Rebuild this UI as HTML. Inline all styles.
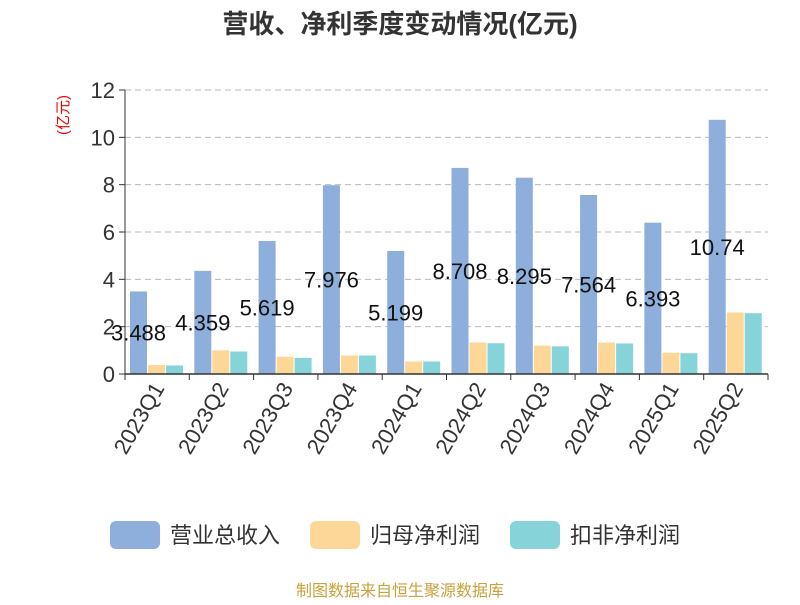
<!DOCTYPE html>
<html><head><meta charset="utf-8"><style>
body{margin:0;background:#fff;}
svg text{font-family:"Liberation Sans","Noto Sans CJK SC",sans-serif;}
</style></head><body>
<svg width="800" height="600">
<text x="400" y="33" text-anchor="middle" font-size="26" font-weight="bold" fill="#333">营收、净利季度变动情况(亿元)</text>
<text transform="translate(68,115) rotate(-90)" text-anchor="middle" font-size="15" fill="#e00">(亿元)</text>
<g id="grid"></g><g id="bars"></g><g id="labels"></g><g id="xaxis"></g>
<g font-size="22" fill="#333">
<rect x="110" y="521" width="50" height="28" rx="6" fill="#8eaedb"/>
<text x="170" y="543">营业总收入</text>
<rect x="310" y="521" width="50" height="28" rx="6" fill="#fdd797"/>
<text x="370" y="543">归母净利润</text>
<rect x="510" y="521" width="50" height="28" rx="6" fill="#86d4d9"/>
<text x="570" y="543">扣非净利润</text>
</g>
<text x="400" y="596" text-anchor="middle" font-size="16" fill="#c9a23c">制图数据来自恒生聚源数据库</text>
</svg>
<script>
const categories=["2023Q1","2023Q2","2023Q3","2023Q4","2024Q1","2024Q2","2024Q3","2024Q4","2025Q1","2025Q2"];
const revenue=[3.488,4.359,5.619,7.976,5.199,8.708,8.295,7.564,6.393,10.74];
const netProfit=[0.38,1.0,0.73,0.78,0.53,1.33,1.2,1.33,0.9,2.6];
const deductedProfit=[0.36,0.95,0.68,0.78,0.53,1.3,1.17,1.29,0.88,2.57];
const yTicks=[0,2,4,6,8,10,12];
const NS="http://www.w3.org/2000/svg";
const x0=125,x1=768,y0=374,y1=90,yMax=12;
const bw=(x1-x0)/categories.length;
const yS=v=>y0-(v/yMax)*(y0-y1);
function mk(t,a,p){const e=document.createElementNS(NS,t);for(const k in a)e.setAttribute(k,a[k]);p.appendChild(e);return e;}
const grid=document.getElementById('grid'),bars=document.getElementById('bars'),labels=document.getElementById('labels'),xa=document.getElementById('xaxis');
yTicks.forEach(v=>{
 if(v>0){const l=mk('line',{x1:x0,x2:x1,y1:yS(v),y2:yS(v),stroke:'#bbb','stroke-dasharray':'6,4'},grid);
 
 }
 const tk=mk('line',{x1:x0-6,x2:x0,y1:yS(v),y2:yS(v),stroke:'#333'},grid);
 
 
 const t=mk('text',{x:x0-10,y:yS(v)+8,'text-anchor':'end','font-size':22,fill:'#333'},grid);t.textContent=v;
 
 
});
const ya=mk('line',{x1:x0,x2:x0,y1:y1,y2:y0,stroke:'#333'},xa);


const xl=mk('line',{x1:x0,x2:x1,y1:y0,y2:y0,stroke:'#333','stroke-width':1.5},xa);


const series=[[revenue,'#8eaedb','bar-revenue'],[netProfit,'#fdd797','bar-net-profit'],[deductedProfit,'#86d4d9','bar-deducted-profit']];
categories.forEach((c,i)=>{
 const gx=x0+i*bw;
 series.forEach((s,j)=>{
  const v=s[0][i],bx=gx+5+j*18;
  const r=mk('rect',{x:bx,y:yS(v),width:17,height:y0-yS(v),fill:s[1]},bars);
  
  
 });
 const t=mk('text',{x:gx+13.5,y:(yS(revenue[i])+y0)/2+8,'text-anchor':'middle','font-size':22,fill:'#111'},labels);
 t.textContent=revenue[i];
 
 
 const tk=mk('line',{x1:gx,x2:gx,y1:y0,y2:y0+6,stroke:'#333'},xa);
 
 
 const cx=gx+bw/2;
 const lb=mk('text',{transform:`translate(${cx+8},${y0+14}) rotate(-60)`,'text-anchor':'end','font-size':22,fill:'#333'},xa);
 lb.textContent=c;
 
 
});
const lt=mk('line',{x1:x1,x2:x1,y1:y0,y2:y0+6,stroke:'#333'},xa);


</script>
</body></html>
